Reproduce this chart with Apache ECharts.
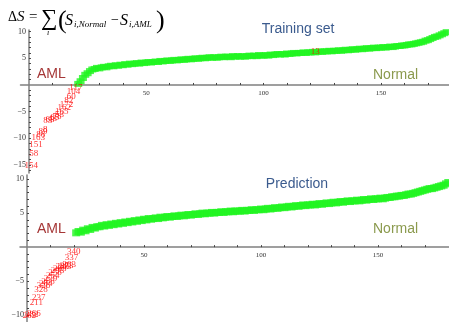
<!DOCTYPE html>
<html>
<head>
<meta charset="utf-8">
<script src="https://cdn.jsdelivr.net/npm/echarts@6/dist/echarts.min.js"></script>
<style>
html,body{margin:0;padding:0;background:#fff;}
#chart{width:449px;height:322px;}
</style>
</head>
<body>
<div id="chart"></div>
<script>
// training set, sorted delta S. red = AML (index 1..20), green = Normal (index 21..178)
var trainAmlIds = ['154','58','151','163','88','89','8','83','63','43','65','78','53','165','162','172','82','60','104','117'];
var trainAmlValues = [-15.2,-12.9,-11.2,-9.9,-9.3,-8.8,-8.4,-6.6,-6.5,-6.3,-6.2,-6.0,-5.6,-5.0,-4.3,-3.6,-2.9,-2.1,-1.3,-0.5];
var trainNormalStart = 21;
var trainNormalValues = [
    0.2,0.7,1.3,1.9,2.2,2.6,2.9,3.0,3.2,3.1,
    3.3,3.4,3.3,3.5,3.6,3.5,3.7,3.6,3.8,3.7,
    3.9,3.8,4.0,3.9,4.0,4.1,4.0,4.2,4.1,4.2,
    4.3,4.2,4.3,4.4,4.3,4.5,4.4,4.5,4.6,4.5,
    4.6,4.7,4.6,4.7,4.8,4.7,4.8,4.9,4.8,4.9,
    5.0,4.9,5.0,5.1,5.0,5.1,5.2,5.1,5.2,5.1,
    5.2,5.3,5.2,5.3,5.3,5.2,5.4,5.3,5.4,5.3,
    5.4,5.3,5.4,5.5,5.4,5.5,5.4,5.6,5.5,5.5,
    5.6,5.5,5.7,5.6,5.7,5.8,5.7,5.8,5.7,5.9,
    5.8,5.9,6.0,5.9,6.0,6.0,6.1,6.0,6.1,6.1,
    6.2,6.1,6.2,6.3,6.2,6.3,6.3,6.4,6.3,6.4,
    6.4,6.5,6.4,6.5,6.6,6.5,6.6,6.7,6.6,6.7,
    6.8,6.7,6.8,6.9,6.8,6.9,7.0,6.9,7.0,7.0,
    7.1,7.0,7.1,7.2,7.1,7.2,7.3,7.3,7.4,7.4,
    7.5,7.6,7.6,7.7,7.8,7.9,8.0,8.1,8.3,8.4,
    8.6,8.8,9.0,9.1,9.3,9.5,9.7,9.9
];
// one AML sample sitting inside the normal band
var trainOutlier = {id:'13', x:122, value:6.2};

// prediction set
var predAmlIds = ['262','282','266','211','237','328','326','284','288','279','254','258','293','263','283','243','273','303','337','340'];
var predAmlValues = [-10.0,-9.9,-9.8,-8.1,-7.4,-6.2,-5.7,-5.4,-5.0,-4.6,-4.2,-3.8,-3.4,-3.1,-2.9,-2.8,-2.7,-2.6,-1.5,-0.7];
var predNormalStart = 21;
var predNormalValues = [
    2.1,2.3,2.2,2.5,2.4,2.7,2.6,2.9,2.8,3.0,
    3.0,3.2,3.1,3.3,3.2,3.4,3.3,3.5,3.4,3.6,
    3.5,3.7,3.6,3.8,3.7,3.9,3.8,4.0,3.9,4.1,
    4.0,4.2,4.1,4.2,4.3,4.2,4.4,4.3,4.4,4.5,
    4.4,4.5,4.6,4.5,4.6,4.7,4.6,4.7,4.8,4.7,
    4.8,4.9,4.8,4.9,5.0,4.9,5.0,5.0,5.1,5.0,
    5.1,5.1,5.2,5.1,5.2,5.2,5.3,5.2,5.3,5.3,
    5.3,5.4,5.3,5.4,5.4,5.5,5.4,5.5,5.5,5.6,
    5.5,5.6,5.7,5.6,5.7,5.8,5.7,5.8,5.9,5.8,
    5.9,6.0,5.9,6.0,6.1,6.0,6.1,6.2,6.1,6.2,
    6.2,6.3,6.2,6.3,6.4,6.3,6.4,6.5,6.4,6.5,
    6.6,6.5,6.6,6.7,6.6,6.7,6.8,6.7,6.8,6.8,
    6.9,6.8,6.9,7.0,6.9,7.0,7.1,7.0,7.1,7.1,
    7.2,7.1,7.2,7.3,7.3,7.4,7.4,7.5,7.5,7.6,
    7.6,7.7,7.8,7.8,7.9,8.0,8.1,8.2,8.3,8.4,
    8.5,8.6,8.6,8.7,8.8,8.9,9.0,9.1,9.3,9.5
];

var xTicks = [10,20,30,40,50,60,70,80,90,100,110,120,130,140,150,160,170];
var xLabels = [50,100,150];
var trainYLabels = [-15,-10,-5,5,10];
var trainYTicks = [];
for(i=-16;i<=10;i++){ if(i!=0) trainYTicks.push(i); }
var predYLabels = [-10,-5,5,10];
var predYTicks = [];
for(i=-11;i<=10;i++){ if(i!=0) predYTicks.push(i); }

var serif = '"Liberation Serif","DejaVu Serif",serif';
var sans = '"Liberation Sans",Arial,sans-serif';

// panel boxes: the axes cross at (0,0), so they are shifted in from the grid edge
var panels = [
    {left:20.5, top:30, height:143, xMin:-3.6, xMax:179, yMin:-16.5, yMax:10.3},
    {left:20, top:175, height:147, xMin:-3, xMax:180.3, yMin:-11, yMax:10.6}
];
var chartWidth = 449;

function amlData(ids, values){
    var out = [];
    for(i=0;i<values.length;i++){
        out.push({name:ids[i], value:[i+1, values[i]]});
    }
    return out;
}
function normalData(start, values){
    var out = [];
    for(i=0;i<values.length;i++){
        out.push([start+i, values[i]]);
    }
    return out;
}

function xAxisOpt(g){
    var p = panels[g];
    // distance from grid bottom up to y = 0
    var off = -(p.height * (0 - p.yMin) / (p.yMax - p.yMin));
    return {
        type:'value', gridIndex:g, min:p.xMin, max:p.xMax, position:'bottom', offset:off,
        axisLine:{onZero:false, lineStyle:{color:'#808080', width:1.5}},
        axisTick:{show:true, inside:true, length:2, customValues:xTicks, lineStyle:{color:'#444'}},
        axisLabel:{customValues:xLabels, fontFamily:serif, fontSize:7, color:'#333', margin:5},
        splitLine:{show:false}
    };
}
function yAxisOpt(g, ticks, labels){
    var p = panels[g];
    var w = chartWidth - p.left;
    var off = -(w * (0 - p.xMin) / (p.xMax - p.xMin));
    return {
        type:'value', gridIndex:g, min:p.yMin, max:p.yMax, position:'left', offset:off,
        axisLine:{show:true, onZero:false, lineStyle:{color:'#808080', width:1.5}},
        axisTick:{show:true, inside:true, length:2, customValues:ticks, lineStyle:{color:'#444'}},
        axisLabel:{customValues:labels, fontFamily:serif, fontSize:8, color:'#333', margin:3,
            formatter:function(v){ return String(v).replace('-', '\u2212'); }},
        splitLine:{show:false}
    };
}

var chart = echarts.init(document.getElementById('chart'));
var greenMark = '#22f522';

option = {
    animation:false,
    backgroundColor:'#fff',
    grid:[
        {left:panels[0].left, right:0, top:panels[0].top, height:panels[0].height},
        {left:panels[1].left, right:0, top:panels[1].top, height:panels[1].height}
    ],
    xAxis:[xAxisOpt(0), xAxisOpt(1)],
    yAxis:[
        yAxisOpt(0, trainYTicks, trainYLabels),
        yAxisOpt(1, predYTicks, predYLabels)
    ],
    series:[
        {
            name:'train normal', type:'scatter', xAxisIndex:0, yAxisIndex:0,
            symbol:'rect', symbolSize:[8,6], silent:true,
            itemStyle:{color:greenMark},
            data:normalData(trainNormalStart, trainNormalValues)
        },
        {
            name:'train aml', type:'scatter', xAxisIndex:0, yAxisIndex:0,
            symbolSize:1, silent:true, itemStyle:{color:'rgba(0,0,0,0)'},
            label:{show:true, position:'inside', formatter:'{b}', color:'#ff0000', fontFamily:serif, fontSize:9},
            data:amlData(trainAmlIds, trainAmlValues).concat([{name:trainOutlier.id, value:[trainOutlier.x, trainOutlier.value]}])
        },
        {
            name:'pred normal', type:'scatter', xAxisIndex:1, yAxisIndex:1,
            symbol:'rect', symbolSize:[8,7], silent:true,
            itemStyle:{color:greenMark},
            data:normalData(predNormalStart, predNormalValues)
        },
        {
            name:'pred aml', type:'scatter', xAxisIndex:1, yAxisIndex:1,
            symbolSize:1, silent:true, itemStyle:{color:'rgba(0,0,0,0)'},
            label:{show:true, position:'inside', formatter:'{b}', color:'#ff0000', fontFamily:serif, fontSize:9},
            data:amlData(predAmlIds, predAmlValues)
        }
    ],
    graphic:[
        // formula  dS = sum_i (S_i,Normal - S_i,AML)
        {type:'text', x:8, y:17, style:{text:'\u0394', font:'14px '+serif, fill:'#000', textVerticalAlign:'middle'}},
        {type:'text', x:17, y:17, style:{text:'S', font:'italic 15px '+serif, fill:'#000', textVerticalAlign:'middle'}},
        {type:'text', x:29, y:17, style:{text:'=', font:'15px '+serif, fill:'#000', textVerticalAlign:'middle'}},
        {type:'text', x:41, y:19, style:{text:'\u2211', font:'23px '+serif, fill:'#000', textVerticalAlign:'middle'}},
        {type:'text', x:47, y:33, style:{text:'i', font:'italic 8px '+serif, fill:'#000', textVerticalAlign:'middle'}},
        {type:'text', x:58, y:21, style:{text:'(', font:'26px '+serif, fill:'#000', textVerticalAlign:'middle'}},
        {type:'text', x:65, y:21, style:{text:'S', font:'italic 16px '+serif, fill:'#000', textVerticalAlign:'middle'}},
        {type:'text', x:74, y:25, style:{text:'i,Normal', font:'italic 9px '+serif, fill:'#000', textVerticalAlign:'middle'}},
        {type:'text', x:111, y:20, style:{text:'\u2212', font:'14px '+serif, fill:'#000', textVerticalAlign:'middle'}},
        {type:'text', x:120, y:21, style:{text:'S', font:'italic 16px '+serif, fill:'#000', textVerticalAlign:'middle'}},
        {type:'text', x:129, y:25, style:{text:'i,AML', font:'italic 9px '+serif, fill:'#000', textVerticalAlign:'middle'}},
        {type:'text', x:156, y:21, style:{text:')', font:'26px '+serif, fill:'#000', textVerticalAlign:'middle'}},
        // panel notes
        {type:'text', x:298, y:29, style:{text:'Training set', font:'14px '+sans, fill:'#3b5b8e', textAlign:'center', textVerticalAlign:'middle'}},
        {type:'text', x:37, y:74, style:{text:'AML', font:'14px '+sans, fill:'#a53636', textVerticalAlign:'middle'}},
        {type:'text', x:373, y:75, style:{text:'Normal', font:'14px '+sans, fill:'#8b9a4e', textVerticalAlign:'middle'}},
        {type:'text', x:297, y:184, style:{text:'Prediction', font:'14px '+sans, fill:'#3b5b8e', textAlign:'center', textVerticalAlign:'middle'}},
        {type:'text', x:37, y:229, style:{text:'AML', font:'14px '+sans, fill:'#a53636', textVerticalAlign:'middle'}},
        {type:'text', x:373, y:229, style:{text:'Normal', font:'14px '+sans, fill:'#8b9a4e', textVerticalAlign:'middle'}}
    ]
};
chart.setOption(option);
</script>
</body>
</html>
